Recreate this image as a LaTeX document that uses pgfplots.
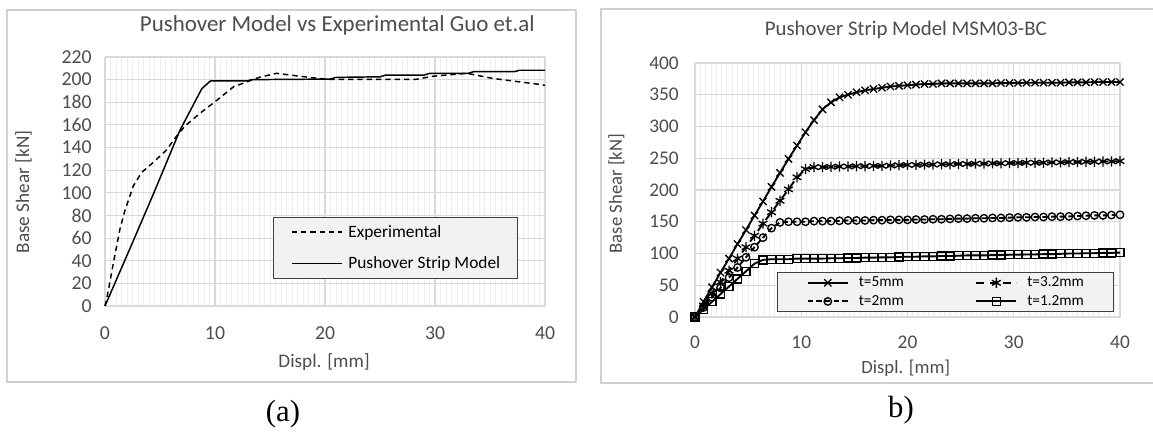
\documentclass[border=0pt]{standalone}
\usepackage{fontspec}
\setmainfont{Carlito}
\newfontfamily\timesfont{Liberation Serif}
\usepackage{pgfplots}
\usepackage{pgfplotstable}
\pgfplotsset{compat=1.18}
\definecolor{gridmaj}{HTML}{D9D9D9}
\definecolor{gridmin}{HTML}{EDEDED}
\definecolor{txt}{HTML}{4D4D4D}
\definecolor{framec}{HTML}{D0D0D0}
\definecolor{legfill}{HTML}{F2F2F2}
\definecolor{legdraw}{HTML}{404040}

\pgfplotstableread{
x t5 t32 t2 t12
0.0 0 0 0 0
0.8 24 18 15 12
1.6 47 37 31 24
2.4 70 55 46 36
3.2 92 73 62 48
4.0 115 92 78 60
4.8 137 110 94 72
5.6 160 128 110 84
6.4 182 147 125 90
7.2 205 165 140 91
8.0 227 183 149 91
8.8 249 201 150 91
9.6 270 220 150 92
10.4 291 233 150 92
11.2 310 236 151 92
12.0 327 236 151 92
12.8 338 236.5 151 92.5
13.6 346 237 151.5 92.5
14.4 350 237 152 93
15.2 354 237.5 152 93
16.0 357 237.5 152 93.5
16.8 359 238 152.5 93.5
17.6 361 238 152.5 94
18.4 363 238.5 153 94
19.2 364 239 153 94.5
20.0 365 239.5 153 95
20.8 366 239.5 153.5 95
21.6 367 240 153.5 95.5
22.4 367 240 154 95.5
23.2 368 240.5 154 96
24.0 368 240.5 154.5 96
24.8 368 241 155 96.5
25.6 368 241 155 97
26.4 368 241.5 155.5 97
27.2 368 241.5 155.5 97
28.0 368 242 156 97.5
28.8 368.5 242 156 97.5
29.6 368.5 242.5 156.5 98
30.4 368.5 242.5 157 98
31.2 369 243 157 98.5
32.0 369 243 157.5 98.5
32.8 369 243 157.5 99
33.6 369 243.5 158 99
34.4 369 243.5 158 99.5
35.2 369.5 244 158.5 100
36.0 369.5 244 159 100
36.8 369.5 244.5 159.5 100.5
37.6 370 244.5 160 100.5
38.4 370 245 160 101
39.2 370 245 160.5 101
40.0 370 245.5 161 101.5
}\stripdata

\pgfplotsset{
  excel/.style={
    scale only axis,
    axis line style={draw=gridmaj},
    major tick length=0pt, minor tick length=0pt,
    xmajorgrids, ymajorgrids, xminorgrids,
    major grid style={draw=gridmaj, line width=0.8pt},
    minor grid style={draw=gridmin, line width=0.6pt},
    minor x tick num=19,
    xmin=0, xmax=40, xtick={0,10,20,30,40},
    /pgf/number format/assume math mode=true,
    tick label style={text=txt},
    label style={text=txt},
    title style={text=txt},
    clip=false,
    legend cell align=left,
  }
}

\begin{document}
\begin{tikzpicture}
\begin{scope}[x=0.75pt,y=-0.75pt]
  \useasboundingbox (0,0) rectangle (1153,433);
  \fill[white] (0,0) rectangle (1153,433);
  \draw[framec, line width=1.2pt] (7,10) rectangle (576,382);
  \draw[framec, line width=1.2pt] (601,9) rectangle (1170,383);
  \node[font=\timesfont\fontsize{23}{26}\selectfont] at (283,414) {(a)};
  \node[font=\timesfont\fontsize{23}{26}\selectfont] at (901,410) {b)};
\end{scope}

% (a)
\begin{axis}[excel,
  at={(78.75pt,-229.5pt)}, anchor=south west,
  width=330pt, height=186.75pt,
  ymin=0, ymax=220, ytick={0,20,...,220},
  tick label style={font=\fontsize{14.8}{17}\selectfont},
  yticklabel style={anchor=east, inner sep=0pt, xshift=-9.75pt},
  xticklabel style={anchor=north, inner sep=0pt, yshift=-15pt},
  title={Pushover Model vs Experimental Guo et.al},
  title style={at={(axis description cs:0.528,1.070)}, anchor=base, font=\fontsize{17.2}{20}\selectfont},
  xlabel={Displ. [mm]},
  xlabel style={at={(axis description cs:0.498,-0.246)}, anchor=base, font=\fontsize{14.4}{16}\selectfont},
  ylabel={Base Shear [kN]},
  ylabel style={at={(axis description cs:-0.185,0.458)}, anchor=center, font=\fontsize{14.4}{16}\selectfont},
  legend style={at={(rel axis cs:0.382,0.108)}, anchor=south west, draw=legdraw, fill=legfill,
    line width=0.8pt, font=\fontsize{13}{15}\selectfont, inner xsep=13pt, inner ysep=6pt,
    row sep=13pt, column sep=4.5pt, nodes={inner sep=0pt}},
  legend image code/.code={\draw[#1] (0pt,0pt) -- (37.5pt,0pt);},
]
\addplot[black, line width=1.1pt, dash pattern=on 4pt off 3pt] coordinates {
(0,0) (0.15,6) (0.9,45) (1.36,68) (1.8,84) (2.57,106) (3.33,118) (4.4,127)
(5.6,138) (6.5,150) (7.27,159) (8.6,170) (10,180.5) (11.7,193.8) (12.9,198)
(14,202) (15.6,205.6) (17.7,203) (20.2,200.3) (28.3,200.3) (29.8,203)
(32.9,205.6) (35.3,201) (39.5,195.8) (40,195)};
\addplot[black, line width=1.1pt] coordinates {
(0,0) (2.5,56) (4.4,99) (6.8,155) (8.8,192) (9.6,199) (13,199) (13.3,200)
(20.5,200.5) (21,202) (25,202.5) (25.5,204) (29,204) (29.5,205.5) (33,205.5)
(33.5,207) (37.2,207) (37.7,208.3) (40,208.3)};
\legend{Experimental, Pushover Strip Model}
\end{axis}

% (b)
\begin{axis}[excel,
  at={(521.25pt,-237.75pt)}, anchor=south west,
  width=318.75pt, height=190.5pt,
  ymin=0, ymax=400, ytick={0,50,...,400},
  tick label style={font=\fontsize{14.5}{17}\selectfont},
  yticklabel style={anchor=east, inner sep=0pt, xshift=-12pt},
  xticklabel style={anchor=north, inner sep=0pt, yshift=-14pt},
  title={Pushover Strip Model MSM03-BC},
  title style={at={(axis description cs:0.496,1.078)}, anchor=base, font=\fontsize{15.6}{18}\selectfont},
  xlabel={Displ. [mm]},
  xlabel style={at={(axis description cs:0.496,-0.222)}, anchor=base, font=\fontsize{14}{16}\selectfont},
  ylabel={Base Shear [kN]},
  ylabel style={at={(axis description cs:-0.185,0.486)}, anchor=center, font=\fontsize{14}{16}\selectfont},
  legend columns=2,
  legend style={at={(rel axis cs:0.193,0.020)}, anchor=south west, draw=legdraw, fill=legfill,
    line width=0.8pt, font=\fontsize{11.5}{13}\selectfont, inner xsep=22pt, inner ysep=3pt,
    row sep=5pt, column sep=7.5pt, nodes={inner sep=0pt}},
  legend image code/.code={\draw[mark repeat=2,mark phase=2,#1] plot coordinates {(0pt,0pt) (15pt,0pt) (30pt,0pt)};},
  every axis plot/.append style={line width=1.4pt, mark options={solid, line width=1pt}},
]
\addplot[black, mark=x, mark size=3.8pt] table[x=x,y=t5] {\stripdata};
\addplot[black, dash pattern=on 6pt off 4pt, mark=asterisk, mark size=3.8pt] table[x=x,y=t32] {\stripdata};
\addplot[black, dash pattern=on 4pt off 2.5pt, mark=o, mark size=2.8pt] table[x=x,y=t2] {\stripdata};
\addplot[black, mark=square, mark size=3pt] table[x=x,y=t12] {\stripdata};
\legend{\makebox[80pt][l]{t=5mm}, t=3.2mm, \makebox[80pt][l]{t=2mm}, t=1.2mm}
\end{axis}
\end{tikzpicture}
\end{document}
